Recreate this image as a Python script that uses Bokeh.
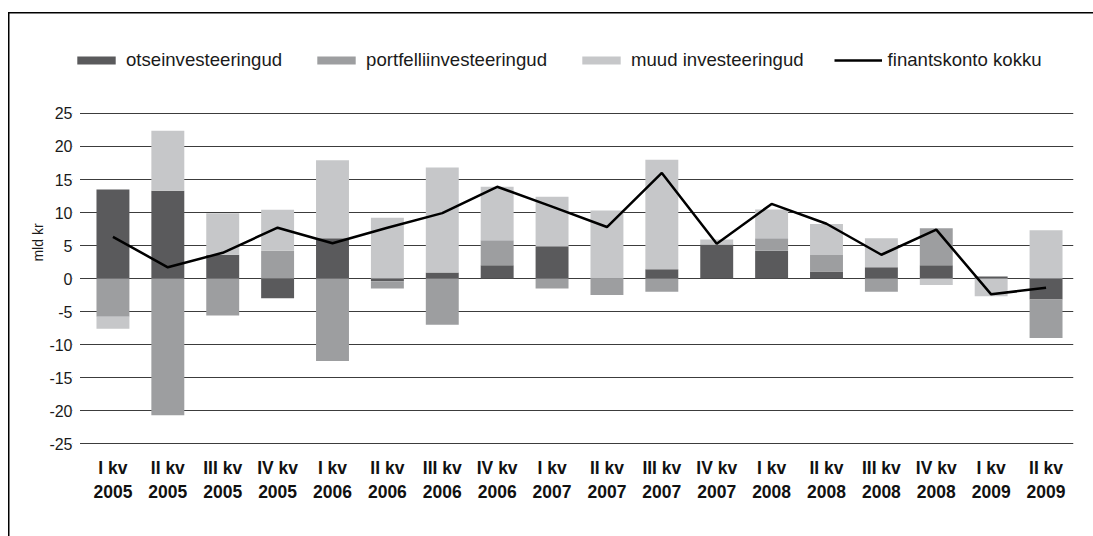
import numpy as np
from bokeh.plotting import figure
from bokeh.models import (Range1d, Legend, LegendItem, BoxAnnotation,
                          FixedTicker, Title)
from bokeh.embed import file_html
from bokeh.resources import INLINE

quarters = ["I kv\n2005", "II kv\n2005", "III kv\n2005", "IV kv\n2005",
            "I kv\n2006", "II kv\n2006", "III kv\n2006", "IV kv\n2006",
            "I kv\n2007", "II kv\n2007", "III kv\n2007", "IV kv\n2007",
            "I kv\n2008", "II kv\n2008", "III kv\n2008", "IV kv\n2008",
            "I kv\n2009", "II kv\n2009"]

otse = [13.5, 13.3, 3.6, -3.0, 6.1, -0.4, 0.9, 2.0, 4.9, 0.0, 1.4, 5.15,
        4.2, 1.05, 1.7, 2.0, 0.3, -3.2]
portf = [-5.8, -20.7, -5.6, 4.2, -12.5, -1.1, -7.0, 3.8, -1.5, -2.5, -2.0, 0.0,
         1.9, 2.5, -2.0, 5.6, 0.0, -5.8]
muud = [-1.8, 9.1, 6.3, 6.2, 11.8, 9.2, 15.9, 8.1, 7.5, 10.3, 16.6, 0.75,
        4.35, 4.7, 4.4, -1.0, -2.7, 7.3]
kokku = [6.3, 1.7, 3.9, 7.7, 5.35, 7.7, 9.9, 13.9, 10.9, 7.8, 16.0, 5.25,
         11.3, 8.3, 3.6, 7.4, -2.4, -1.4]

names = ["otseinvesteeringud", "portfelliinvesteeringud", "muud investeeringud"]
line_name = "finantskonto kokku"
y_label = "mld kr"
colors = ["#5a5a5c", "#9d9ea0", "#c6c7c9"]
yticks = [-25, -20, -15, -10, -5, 0, 5, 10, 15, 20, 25]

FONT = "Liberation Sans"
W, H = 1093, 536
xpos = list(range(len(quarters)))
cat_px = 988 / len(quarters)

p = figure(width=W, height=H,
           x_range=Range1d(-0.5 - 13 / cat_px, len(quarters) - 0.5),
           y_range=Range1d(-25.15, 36.06), output_backend="svg",
           toolbar_location=None, min_border_left=72, min_border_right=20,
           min_border_top=40, min_border_bottom=92)
# outer frame lines of the reference picture (top and left edges)
p.styles = {"box-shadow": ("inset 0 12px 0 0 #ffffff, inset 8px 0 0 0 #ffffff, "
                           "inset 0 13.5px 0 0 #000000, inset 9.5px 0 0 0 #000000")}
p.border_fill_alpha = 0
p.background_fill_alpha = 0
p.outline_line_color = None
p.xgrid.grid_line_color = None
p.ygrid.ticker = FixedTicker(ticks=yticks)
p.ygrid.grid_line_color = "#3c3c3c"
p.ygrid.grid_line_width = 1

# white strip so that grid lines start where the reference's do
p.add_layout(BoxAnnotation(left=0, right=7.5, left_units="screen",
                           right_units="screen", bottom=-26, top=26,
                           fill_color="white", fill_alpha=1, line_color=None,
                           level="underlay"))

items = []
pos_base = np.zeros(len(quarters))
neg_base = np.zeros(len(quarters))
for vals, col, nm in zip([otse, portf, muud], colors, names):
    v = np.array(vals, dtype=float)
    bottom = np.where(v >= 0, pos_base, neg_base)
    top = bottom + v
    pos_base = np.where(v >= 0, top, pos_base)
    neg_base = np.where(v < 0, top, neg_base)
    r = p.vbar(x=xpos, bottom=bottom, top=top, width=0.6,
               fill_color=col, line_color=None)
    items.append(LegendItem(label=nm, renderers=[r]))

rl = p.line(x=xpos, y=kokku, line_color="black", line_width=2.5)
items.append(LegendItem(label=line_name, renderers=[rl]))

legend = Legend(items=items, orientation="horizontal", location=(0, 373),
                padding=0, margin=0, spacing=30, label_standoff=6,
                glyph_width=48, glyph_height=10, label_height=22,
                border_line_color=None, background_fill_alpha=0,
                label_text_font=FONT, label_text_font_size="18.6px",
                label_text_color="#1a1a1a")
p.add_layout(legend, "center")

p.yaxis.ticker = FixedTicker(ticks=yticks)
p.yaxis.major_label_overrides = {t: str(t) for t in yticks}
p.yaxis.axis_line_color = None
p.yaxis.major_tick_out = 0
p.yaxis.major_tick_in = 0
p.yaxis.major_tick_line_color = None
p.yaxis.minor_tick_line_color = None
p.yaxis.major_label_standoff = 0
p.yaxis.major_label_text_font = FONT
p.yaxis.major_label_text_font_size = "16px"
p.yaxis.major_label_text_color = "#1a1a1a"

p.xaxis.ticker = FixedTicker(ticks=xpos)
p.xaxis.major_label_overrides = {i: q for i, q in zip(xpos, quarters)}
p.xaxis.axis_line_color = None
p.xaxis.major_tick_line_color = None
p.xaxis.minor_tick_line_color = None
p.xaxis.major_tick_out = 0
p.xaxis.major_label_standoff = 13
p.xaxis.major_label_text_font = FONT
p.xaxis.major_label_text_font_size = "17.5px"
p.xaxis.major_label_text_font_style = "bold"
p.xaxis.major_label_text_color = "#111111"

p.add_layout(Title(text=y_label, align="center", offset=-8,
                   text_font=FONT, text_font_size="14px",
                   text_font_style="normal", text_color="#1a1a1a",
                   standoff=1), "left")

open("out.html", "w").write(file_html(p, INLINE))
